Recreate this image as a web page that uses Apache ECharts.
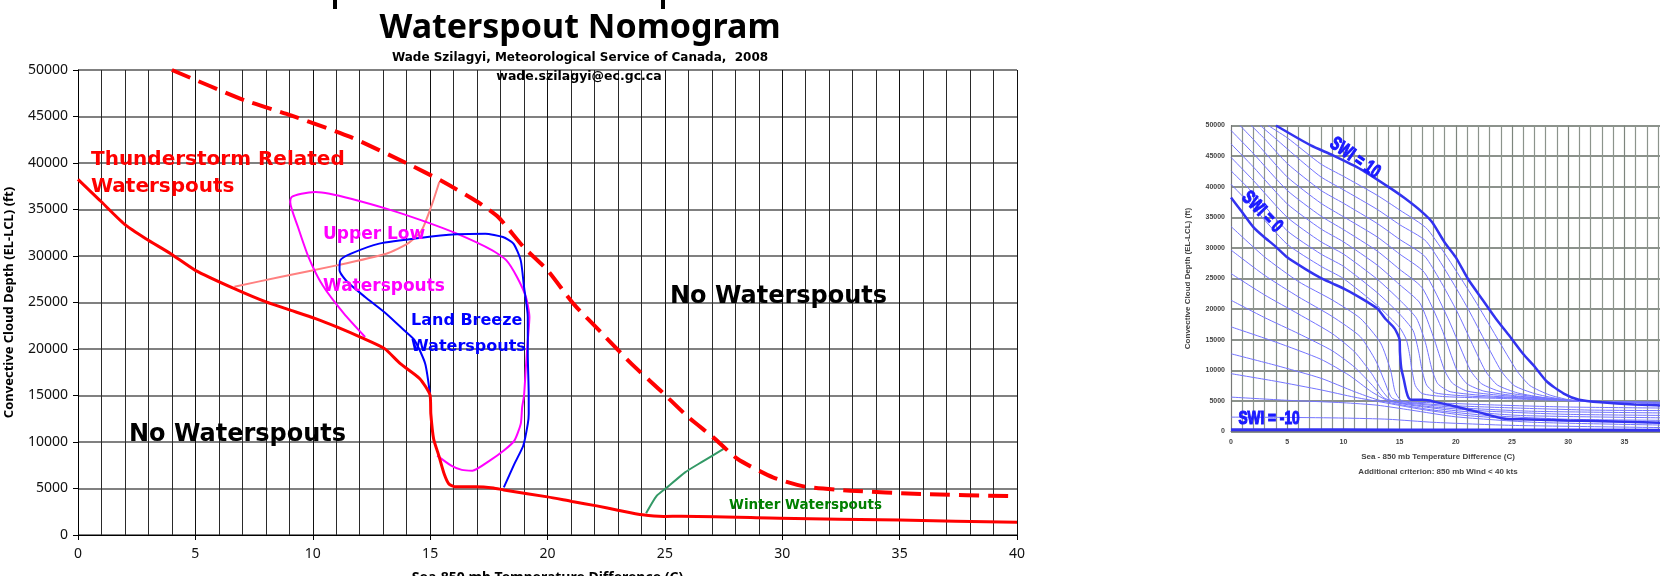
<!DOCTYPE html>
<html>
<head>
<meta charset="utf-8">
<title>Waterspout Nomogram</title>
<script src="https://cdn.jsdelivr.net/npm/echarts@6/dist/echarts.min.js"></script>
<style>
  html, body { margin: 0; padding: 0; background: #fff; }
  #main { position: absolute; left: 0; top: 0; width: 1100px; height: 576px; }
  #swi { position: absolute; left: 1100px; top: 0; width: 560px; height: 576px; filter: blur(0.6px); }
</style>
</head>
<body>
<div id="main"></div>
<div id="swi"></div>
<script>
// --- nomogram curves (x = Sea-850 mb temp diff, y = cloud depth ft) ---
var tstormLower = [[0,38240],[0.93,35990],[1.99,33400],[2.89,31860],[3.95,30250],[5.0,28460],[6.66,26490],[8.01,25060],[9.07,24160],[10.12,23260],[11.02,22370],[12.08,21220],[13.06,20040],[13.73,18420],[14.56,16810],[15.0,15000],[15.03,13030],[15.15,10330],[15.37,8540],[15.6,6560],[15.8,5490],[16.05,5200],[16.95,5200],[17.7,5060],[18.14,4840],[20.0,4100],[21.05,3600],[22.1,3130],[23.0,2670],[24.05,2170],[24.95,1990],[25.7,2020],[29.9,1810],[35.0,1600],[40.0,1360]];
var tstormUpper = [[4.0,50000],[7.1,46740],[9.07,45120],[11.6,42800],[14.04,39930],[15.44,38140],[17.03,35810],[17.9,34190],[18.98,30970],[20.0,28460],[21.1,24880],[22.33,21660],[23.57,18430],[24.8,15560],[26.0,12660],[27.06,10500],[28.1,8170],[29.6,6200],[30.96,5200],[32.9,4770],[35.9,4410],[40.0,4160]];
var upperLow = [[12.23,21290],[11.33,23800],[10.42,26850],[9.82,29890],[9.37,33120],[9.04,35810],[9.1,36340],[9.52,36700],[10.12,36880],[10.72,36700],[11.63,36160],[13.13,35090],[14.64,33830],[16.14,32400],[17.65,30610],[18.25,29530],[18.7,27740],[19.08,25590],[19.23,23440],[19.16,20930],[19.08,18070],[19.0,15000],[18.92,13740],[18.86,11950],[18.59,10150],[18.14,9080],[17.54,8000],[16.8,6920],[16.35,7000],[15.9,7460],[15.3,8540]];
var landBreeze = [[15.0,15020],[14.79,18420],[14.34,20930],[13.89,22010],[13.13,23800],[12.23,25590],[11.48,27200],[11.14,28460],[11.17,29530],[11.63,30250],[12.83,31330],[14.64,31970],[16.14,32330],[17.35,32400],[18.1,32040],[18.55,31330],[18.86,29530],[19.0,26670],[19.16,23440],[19.16,19500],[19.2,15020],[19.2,13000],[19.16,11950],[18.97,9620],[18.59,7640],[18.14,5130]];
var connector = [[6.66,26700],[8.61,27740],[11.02,28990],[13.13,30250],[14.04,31330],[14.64,32760],[15.09,35630],[15.39,37960]];
var winter = [[24.2,2330],[24.65,4200],[25.1,5130],[25.86,6740],[26.6,7890],[27.5,9260]];

// --- SWI chart (right), SWI = 1..9 above SWI = 0 ---
var swiP1 = [[0,40400],[2,36600],[5,30600],[8,27000],[10,25000],[13,20600],[15,17000],[15.6,15000],[15.9,12500],[16.1,10000],[16.4,7500],[17,6200],[19,5700],[24,5400],[30.5,5000],[40,4500]];
var swiP2 = [[0,42600],[2,38900],[5,32800],[8,29000],[10,27000],[13,22700],[15,19200],[16.2,16500],[16.7,13000],[17.0,10000],[17.4,7600],[18.2,6300],[21,5800],[26,5400],[30.5,5000],[40,4550]];
var swiP3 = [[0,44800],[2,41000],[5,35000],[8,31000],[10,29000],[13,24900],[15,21500],[16.5,18500],[17.3,14500],[17.9,10000],[18.4,7800],[19.5,6500],[23,5800],[27,5400],[30.5,5000],[40,4600]];
var swiP4 = [[0,47000],[2,43200],[5,37200],[8,33100],[10,31000],[13,27200],[15,24000],[16.8,21000],[18.0,15500],[19.0,10000],[19.7,7900],[21,6600],[24,5900],[28,5400],[30.8,5000],[40,4650]];
var swiP5 = [[0,49200],[2,45400],[5,39400],[8,35200],[10,33000],[13,29500],[15,26500],[17,23500],[18.7,17000],[20.1,10000],[21,7800],[22.5,6600],[25.5,5800],[31,5000],[40,4650]];
var swiP6 = [[0.8,50000],[2,47700],[5,41600],[8,37300],[10,35100],[13,31800],[15,29000],[17.2,26000],[19.3,18500],[21.3,10000],[22.3,7800],[24,6500],[27,5700],[31,5000],[40,4700]];
var swiP7 = [[1.8,50000],[3,47800],[5,43800],[8,39400],[10,37300],[13,34000],[15,31400],[17.3,28500],[20,20000],[22.6,10000],[23.7,7600],[25.5,6300],[28,5500],[31,5000],[40,4700]];
var swiP8 = [[2.6,50000],[4,47800],[6,44600],[8,41600],[10,39500],[13,36300],[15,33800],[17.4,31000],[20.8,21000],[24.0,10000],[25.2,7500],[27,6200],[29,5400],[31.2,4950],[40,4700]];
var swiP9 = [[3.3,50000],[5,48000],[8,43700],[10,41700],[13,38600],[15,36200],[17.5,33000],[21.5,22000],[25.4,10000],[26.6,7500],[28.3,6000],[30,5200],[31.5,4900],[40,4750]];
// SWI = -1..-9 below SWI = 0, and SWI = -10 along the floor
var swiN1 = [[0,33500],[3,28500],[6,24500],[9,21500],[11.5,18500],[13.3,14500],[14.2,10000],[14.6,6500],[15.2,5000],[18,4700],[24,4300],[30,4000],[40,3800]];
var swiN2 = [[0,29650],[3,25500],[6,22000],[9,18800],[11.5,15500],[12.9,11500],[13.7,8000],[14.3,5500],[15.5,4800],[20,4200],[26,3800],[32,3500],[40,3400]];
var swiN3 = [[0,25800],[3,22300],[6,19200],[9,16000],[11,13000],[12.5,9500],[13.4,6800],[14.3,5000],[16.5,4500],[21,3800],[27,3300],[40,3000]];
var swiN4 = [[0,21450],[3,18600],[6,16000],[9,13200],[11,10500],[12.6,7500],[13.6,5500],[15,4700],[18,4000],[23,3300],[30,2800],[40,2600]];
var swiN5 = [[0,17100],[4,14600],[8,11800],[10.5,9200],[12.5,6500],[14,5000],[16,4300],[20,3400],[26,2600],[40,2200]];
var swiN6 = [[0,12700],[4,10800],[8,8700],[11,6500],[13,5200],[15,4400],[18,3500],[23,2600],[30,2000],[40,1800]];
var swiN7 = [[0,9450],[4,8200],[8,6800],[11,5600],[14,4600],[17,3600],[21,2600],[28,1800],[40,1400]];
var swiN8 = [[0,5620],[5,5100],[10,4700],[13,4300],[16,3500],[20,2400],[27,1500],[40,1000]];
var swiN9 = [[0,2350],[5,2300],[10,2200],[14,2000],[18,1500],[25,1000],[40,600]];
var swiN10 = [[0,300],[10,280],[20,250],[40,200]];

var FONT = '"Noto Sans", "DejaVu Sans", sans-serif';
var WIDE = '"DejaVu Sans", sans-serif';

function curve(data, color, width, type, z) {
    return {
        type: 'line', data: data, showSymbol: false, symbol: 'none', smooth: 0.2,
        silent: true, z: z || 2,
        lineStyle: { color: color, width: width, type: type || 'solid' }
    };
}

function label(x, y, text, size, color, align, family) {
    return {
        type: 'text', x: x, y: y, z: 50,
        style: {
            text: text, fill: color, align: align || 'left', verticalAlign: 'middle',
            font: 'bold ' + size + 'px ' + (family || WIDE)
        }
    };
}

function plain(v) { return String(v); }

// ---------------- left: main nomogram ----------------
var chartMain = echarts.init(document.getElementById('main'));
chartMain.setOption({
    animation: false,
    backgroundColor: '#fff',
    textStyle: { fontFamily: FONT },
    grid: { left: 78, top: 70, width: 939, height: 465, outerBoundsMode: 'none' },
    xAxis: {
        type: 'value', min: 0, max: 40, interval: 5,
        axisLine: { show: true, onZero: false, lineStyle: { color: '#000', width: 1 } },
        axisTick: { show: true, length: 5, lineStyle: { color: '#000' } },
        axisLabel: { fontSize: 14, color: '#111', margin: 12, fontFamily: FONT },
        splitLine: { show: true, lineStyle: { color: '#111', width: 1 } },
        minorTick: { show: false, splitNumber: 5 },
        minorSplitLine: { show: true, lineStyle: { color: '#2a2a2a', width: 1 } },
        name: 'Sea-850 mb Temperature Difference (C)', nameLocation: 'middle', nameGap: 36,
        nameTextStyle: { fontWeight: 'bold', fontSize: 14, color: '#000', fontFamily: FONT }
    },
    yAxis: {
        type: 'value', min: 0, max: 50000, interval: 5000,
        axisLine: { show: true, lineStyle: { color: '#000', width: 1 } },
        axisTick: { show: true, length: 5, lineStyle: { color: '#000' } },
        axisLabel: { fontSize: 14, color: '#111', margin: 10, fontFamily: FONT, formatter: plain },
        splitLine: { show: true, lineStyle: { color: '#808080', width: 2 } },
        name: 'Convective Cloud Depth (EL-LCL) (ft)', nameLocation: 'middle', nameGap: 62,
        nameTextStyle: { fontWeight: 'bold', fontSize: 13, color: '#000', fontFamily: FONT }
    },
    series: [
        curve(connector, '#ff8080', 2, 'solid', 2),
        curve(upperLow, '#ff00ff', 2, 'solid', 3),
        curve(landBreeze, '#0000ff', 2, 'solid', 3),
        curve(winter, '#339966', 2, 'solid', 3),
        curve(tstormLower, '#ff0000', 3, 'solid', 4),
        curve(tstormUpper, '#ff0000', 4, [20, 9], 4)
    ],
    graphic: [
        // descenders of the cut-off line above the title
        { type: 'rect', shape: { x: 333, y: 0, width: 4, height: 9 }, style: { fill: '#000' } },
        { type: 'rect', shape: { x: 661, y: 0, width: 4, height: 9 }, style: { fill: '#000' } },
        label(580, 28, 'Waterspout Nomogram', 34, '#000', 'center', FONT),
        label(580, 58, 'Wade Szilagyi, Meteorological Service of Canada,  2008', 12, '#000', 'center'),
        label(579, 77, 'wade.szilagyi@ec.gc.ca', 12.5, '#000', 'center'),
        label(91, 160, 'Thunderstorm Related', 20, '#ff0000'),
        label(91, 187, 'Waterspouts', 20, '#ff0000'),
        label(323, 235, 'Upper Low', 17, '#ff00ff'),
        label(323, 287, 'Waterspouts', 17, '#ff00ff'),
        label(411, 321, 'Land Breeze', 16, '#0000ff'),
        label(411, 347, 'Waterspouts', 16, '#0000ff'),
        label(670, 297, 'No Waterspouts', 24, '#000'),
        label(129, 435, 'No Waterspouts', 24, '#000'),
        label(729, 505, 'Winter Waterspouts', 13.5, '#008000')
    ]
});

// ---------------- right: SWI nomogram ----------------
var thin = '#7474ff';
var bold = '#3333f0';
var swiSeries = [swiN9, swiN8, swiN7, swiN6, swiN5, swiN4, swiN3, swiN2, swiN1,
                 swiP1, swiP2, swiP3, swiP4, swiP5, swiP6, swiP7, swiP8, swiP9].map(function (d) {
    return curve(d, thin, 1, 'solid', 2);
});
swiSeries.push(curve(swiN10, bold, 3, 'solid', 3));
swiSeries.push(curve(tstormLower, bold, 2.5, 'solid', 3));
swiSeries.push(curve(tstormUpper, bold, 2.5, 'solid', 3));

var SMALL = '"Liberation Sans", "DejaVu Sans", sans-serif';

function swiLabel(x, y, rot, text) {
    return {
        type: 'text', x: x, y: y, rotation: rot, scaleX: 0.72, z: 50,
        style: {
            text: text, align: 'center', verticalAlign: 'middle', fill: '#1a1aff',
            stroke: '#1a1aff', lineWidth: 1.2, font: 'bold 19px ' + SMALL
        }
    };
}

var chartSwi = echarts.init(document.getElementById('swi'));
chartSwi.setOption({
    animation: false,
    backgroundColor: '#fff',
    grid: { left: 131, top: 125.5, width: 449.6, height: 306, outerBoundsMode: 'none' },
    xAxis: {
        type: 'value', min: 0, max: 40, interval: 5,
        axisLine: { show: true, onZero: false, lineStyle: { color: '#777' } },
        axisTick: { show: false },
        axisLabel: { fontSize: 7, fontWeight: 'bold', color: '#444', margin: 7, fontFamily: SMALL },
        splitLine: { show: true, lineStyle: { color: '#7d857d', width: 1.2 } },
        minorTick: { show: false, splitNumber: 5 },
        minorSplitLine: { show: true, lineStyle: { color: '#8c948c', width: 1.2 } }
    },
    yAxis: {
        type: 'value', min: 0, max: 50000, interval: 5000,
        axisLine: { show: true, lineStyle: { color: '#777' } },
        axisTick: { show: false },
        axisLabel: { fontSize: 7, fontWeight: 'bold', color: '#444', margin: 6, fontFamily: SMALL, formatter: plain },
        splitLine: { show: true, lineStyle: { color: '#666e66', width: 1.6 } },
        name: 'Convective Cloud Depth (EL-LCL) (ft)', nameLocation: 'middle', nameGap: 39,
        nameTextStyle: { fontWeight: 'bold', fontSize: 8, color: '#444', fontFamily: SMALL }
    },
    series: swiSeries,
    graphic: [
        { type: 'text', x: 338, y: 457, style: { text: 'Sea - 850 mb Temperature Difference (C)', align: 'center', verticalAlign: 'middle', fill: '#444', font: 'bold 8px ' + SMALL } },
        { type: 'text', x: 338, y: 472, style: { text: 'Additional criterion: 850 mb Wind < 40 kts', align: 'center', verticalAlign: 'middle', fill: '#444', font: 'bold 8px ' + SMALL } },
        swiLabel(255, 158, -0.61, 'SWI = 10'),
        swiLabel(162, 212, -0.79, 'SWI = 0'),
        swiLabel(169, 419, 0, 'SWI = -10')
    ]
});
</script>
</body>
</html>
